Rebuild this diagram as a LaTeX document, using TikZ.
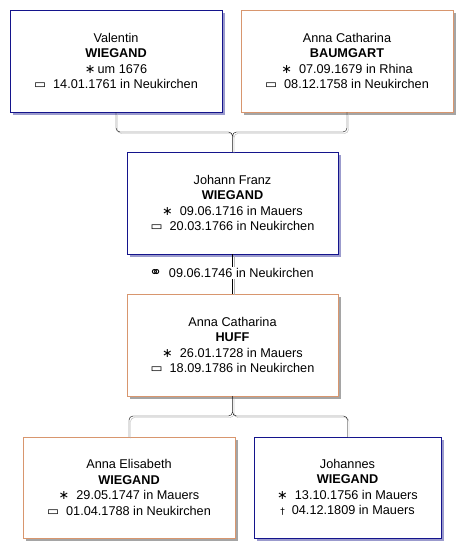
\documentclass[tikz,border=0pt]{standalone}
\usepackage{fontspec}
\setmainfont{Liberation Sans}
\newfontfamily\symfont{DejaVu Sans}
\definecolor{maleBorder}{RGB}{20,20,140}
\definecolor{femaleBorder}{RGB}{216,150,110}
\definecolor{maleShadow}{RGB}{155,155,205}
\definecolor{femaleShadow}{RGB}{165,165,165}
\newcommand{\born}{{\symfont ∗}}
\newcommand{\buried}{{\symfont ▭}}
\newcommand{\married}{{\symfont\fontsize{15}{15}\selectfont ⚭}}
\newcommand{\died}{{\symfont\small †}}

\begin{document}
\begin{tikzpicture}[x = 1pt, y = -1pt, font=\fontsize{12.7}{15.5}\selectfont]
	\tikzstyle{personStyle} = [shape = rectangle, fill = white, align = center, minimum height = 102pt, inner sep = 0pt]
	\tikzstyle{maleStyle} = [personStyle, draw = maleBorder]
	\tikzstyle{femaleStyle} = [personStyle, draw = femaleBorder]
	\tikzstyle{linkStyle} = [draw = black, rounded corners = 4pt]
	\tikzstyle{linkShadowStyle} = [draw = black!30, rounded corners = 4pt, transform canvas = {xshift = 1.5pt, yshift = -1.5pt}]
	\useasboundingbox (0,0) rectangle (472,558);
	% box shadows
	\fill[maleShadow] (13,13) rectangle (225,115);
	\fill[femaleShadow] (244,13) rectangle (456,115);
	\fill[maleShadow] (130,155) rectangle (341,257);
	\fill[femaleShadow] (130,297) rectangle (341,399);
	\fill[femaleShadow] (26,440) rectangle (238,541);
	\fill[maleShadow] (257,440) rectangle (444,541);
	\node[maleStyle, minimum width = 212pt] (valentin) at (116,61) {Valentin\\\textbf{WIEGAND}\\\born\,um 1676\\\buried\ \ 14.01.1761 in Neukirchen};
	\node[femaleStyle, minimum width = 212pt] (baumgart) at (347,61) {Anna Catharina\\\textbf{BAUMGART}\\\born\ \ 07.09.1679 in Rhina\\\buried\ \ 08.12.1758 in Neukirchen};
	\node[maleStyle, minimum width = 211pt] (johann) at (232.5,203) {Johann Franz\\\textbf{WIEGAND}\\\born\ \ 09.06.1716 in Mauers\\\buried\ \ 20.03.1766 in Neukirchen};
	\node[femaleStyle, minimum width = 211pt] (huff) at (232.5,345) {Anna Catharina\\\textbf{HUFF}\\\born\ \ 26.01.1728 in Mauers\\\buried\ \ 18.09.1786 in Neukirchen};
	\node[femaleStyle, minimum width = 212pt, minimum height = 101pt] (elisabeth) at (129,487.5) {Anna Elisabeth\\\textbf{WIEGAND}\\\born\ \ 29.05.1747 in Mauers\\\buried\ \ 01.04.1788 in Neukirchen};
	\node[maleStyle, minimum width = 187pt, minimum height = 101pt] (johannes) at (347.5,487.5) {Johannes\\\textbf{WIEGAND}\\\born\ \ 13.10.1756 in Mauers\\\died\ \ 04.12.1809 in Mauers};
	\coordinate (parents) at (232.5,132);
	\coordinate (children) at (232.5,416);
	% connectors
	\foreach \style in {linkShadowStyle, linkStyle} {
		\draw[\style] (valentin.south) |- (parents) -- (johann.north);
		\draw[\style] (baumgart.south) |- (parents) -- (johann.north);
		\draw[\style] (johann.south) -- (huff.north);
		\draw[\style] (huff.south) -- (children) -| (elisabeth.north);
		\draw[\style] (huff.south) -- (children) -| (johannes.north);
	}
	\node[fill = white, inner sep = 1pt] (wedding) at (231.5,273) {\married\ \ 09.06.1746 in Neukirchen};
\end{tikzpicture}
\end{document}
